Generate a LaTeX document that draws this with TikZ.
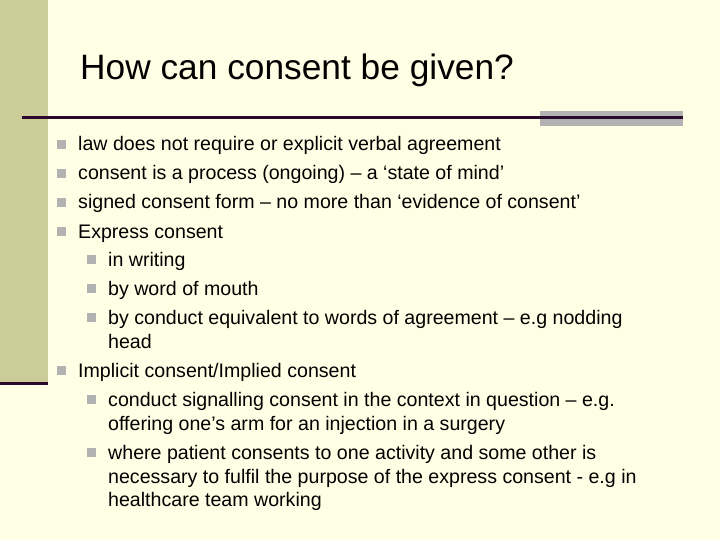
\documentclass[tikz,border=0pt]{standalone}
\usepackage{fontspec}
\setmainfont{Liberation Sans}
\definecolor{bg}{HTML}{FFFFE5}
\definecolor{barc}{HTML}{CCCC99}
\definecolor{dark}{HTML}{2A0A2A}
\definecolor{bul}{HTML}{B2B2B2}
\begin{document}
\begin{tikzpicture}[x=1pt,y=-1pt,
  txt/.style={anchor=base west,inner sep=0pt,font=\fontsize{19.6}{22}\selectfont},
  bl/.style={fill=bul,draw=none}]
\useasboundingbox (0,0) rectangle (720,540);
\fill[bg] (0,0) rectangle (720,540);
\fill[barc] (0,0) rectangle (48,382);
\fill[dark] (0,382) rectangle (48,385);
\fill[bul] (540,111) rectangle (683,126);
\fill[dark] (22,116) rectangle (683,119);
\node[anchor=base west,inner sep=0pt,font=\fontsize{35.3}{38}\selectfont] (title) at (80,80) {How can consent be given?};
\newcommand{\bA}[3]{\fill[bul] (57,#2-11) rectangle +(9,9);\node[txt] (#1) at (78,#2) {#3};}
\newcommand{\bB}[3]{\fill[bul] (87,#2-11) rectangle +(9,9);\node[txt] (#1) at (108,#2) {#3};}
\bA{a}{151}{law does not require or explicit verbal agreement}
\bA{b}{180}{consent is a process (ongoing) – a ‘state of mind’}
\bA{c}{209}{signed consent form – no more than ‘evidence of consent’}
\bA{d}{238}{Express consent}
\bB{d1}{266}{in writing}
\bB{d2}{295}{by word of mouth}
\bB{d3}{324}{by conduct equivalent to words of agreement – e.g nodding}
\node[txt] (d3b) at (108,348) {head};
\bA{e}{377}{Implicit consent/Implied consent}
\bB{e1}{406}{conduct signalling consent in the context in question – e.g.}
\node[txt] (e1b) at (108,430) {offering one’s arm for an injection in a surgery};
\bB{e2}{459}{where patient consents to one activity and some other is}
\node[txt] (e2b) at (108,483) {necessary to fulfil the purpose of the express consent - e.g in};
\node[txt] (e2c) at (108,506) {healthcare team working};
\end{tikzpicture}
\end{document}
